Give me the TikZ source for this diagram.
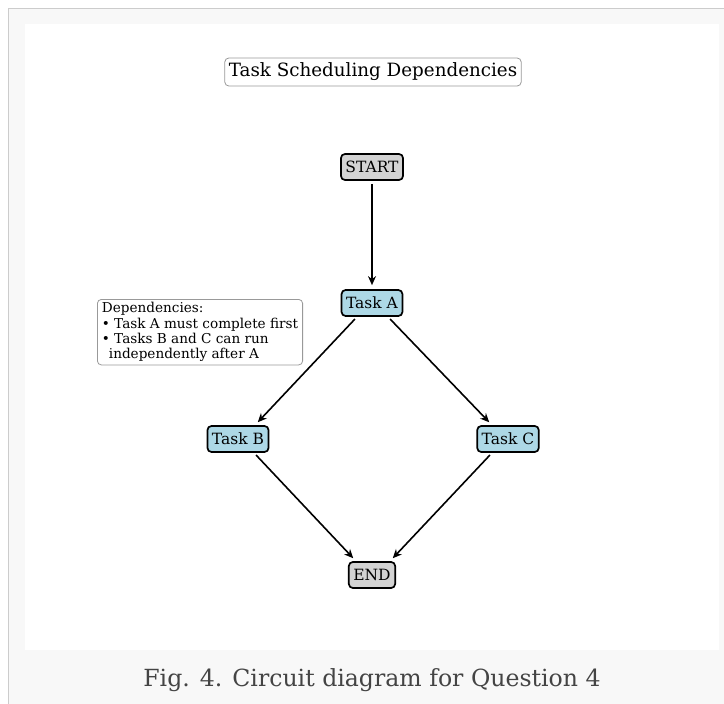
\documentclass[tikz,border=0pt]{standalone}
\usepackage{fontspec}
\setmainfont{DejaVu Serif}
\usetikzlibrary{arrows.meta}
\definecolor{lblue}{HTML}{ADD8E6}
\definecolor{lgray}{HTML}{D3D3D3}
\definecolor{framefill}{HTML}{F8F8F8}
\definecolor{frameline}{HTML}{CCCCCC}
\definecolor{captext}{HTML}{444444}
\tikzset{
  base/.style={draw=black, line width=1.7pt, rounded corners=4pt, inner xsep=4.5pt, inner ysep=3pt, font=\fontsize{15.5}{17}\selectfont, minimum height=26pt},
  termbox/.style={base, fill=lgray},
  taskbox/.style={base, fill=lblue},
  notebox/.style={draw=gray!80, rounded corners=4pt, line width=0.8pt},
  conn/.style={-{Stealth[length=9pt,width=8pt]}, line width=1.6pt, shorten <=3pt, shorten >=4pt},
}
\begin{document}
\begin{tikzpicture}[x=1pt,y=-1pt]
\useasboundingbox (0,0) rectangle (724,704);
\fill[framefill] (8,8) rectangle (730,710);
\draw[frameline, line width=1pt] (8,710) -- (8,8) -- (730,8);
\fill[white] (25,24) rectangle (719,650);
\node[notebox, inner xsep=4pt, minimum height=28pt, font=\fontsize{18.3}{20}\selectfont] (title) at (373,72) {Task Scheduling Dependencies};
\node[termbox] (start) at (372,167) {START};
\node[taskbox] (a) at (372,303) {Task A};
\node[taskbox] (b) at (238,439) {Task B};
\node[taskbox] (c) at (508,439) {Task C};
\node[termbox] (end) at (372,575) {END};
\node[notebox, inner xsep=4.5pt, inner ysep=3pt, align=left, font=\fontsize{13.6}{15.4}\selectfont, anchor=north west] (deps) at (97,299) {Dependencies:\\ • Task A must complete first\\ • Tasks B and C can run\\ \hspace*{7pt}independently after A};
\draw[conn] (start) -- (a);
\draw[conn] ([xshift=-15pt]a.south) -- ([xshift=17pt]b.north);
\draw[conn] ([xshift=16pt]a.south) -- ([xshift=-16pt]c.north);
\draw[conn] ([xshift=16pt]b.south) -- ([xshift=-16pt]end.north);
\draw[conn] ([xshift=-16pt]c.south) -- ([xshift=18pt]end.north);
\node[text=captext, font=\fontsize{23.6}{27}\selectfont] (cap) at (372,680) {Fig. 4. Circuit diagram for Question 4};
\end{tikzpicture}
\end{document}
